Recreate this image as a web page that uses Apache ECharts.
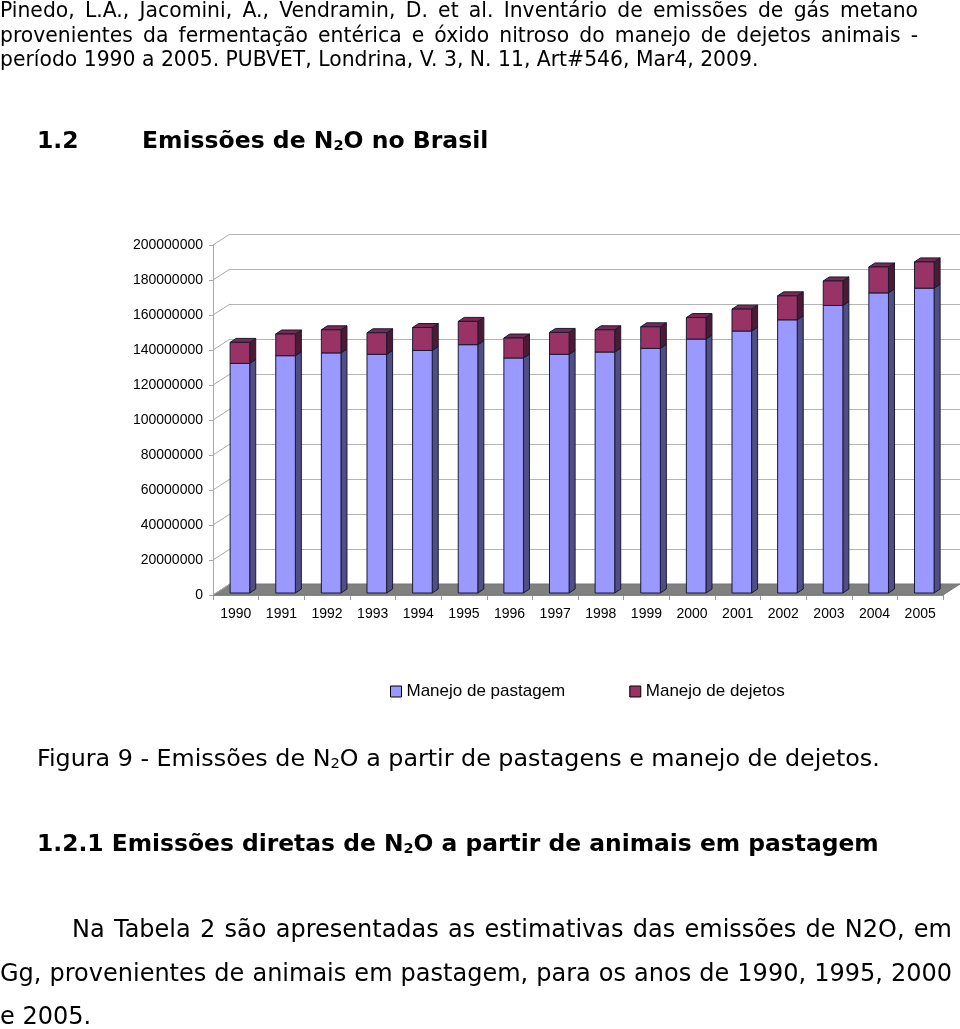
<!DOCTYPE html>
<html>
<head>
<meta charset="utf-8">
<script src="https://cdn.jsdelivr.net/npm/echarts@6/dist/echarts.min.js"></script>
<style>
  html, body { margin:0; padding:0; background:#fff; }
  #page { position:relative; width:960px; height:1029px; overflow:hidden; }
  #chart { position:absolute; left:0; top:0; width:960px; height:1029px; }
  .t { position:absolute; color:#000; font-family:"DejaVu Sans", Verdana, sans-serif; z-index:2; white-space:normal; }
  .j { text-align:justify; text-align-last:justify; }
  sub { font-size:0.62em; vertical-align:-0.15em; line-height:0; }
</style>
</head>
<body>
<div id="page">
  <div id="chart"></div>
  <div class="t" style="left:0; top:-2px; width:918px; font-size:20.35px; line-height:24.7px;">
    <div class="j">Pinedo, L.A., Jacomini, A., Vendramin, D. et al. Inventário de emissões de gás metano</div>
    <div class="j">provenientes da fermentação entérica e óxido nitroso do manejo de dejetos animais -</div>
    <div>período 1990 a 2005. PUBVET, Londrina, V. 3, N. 11, Art#546, Mar4, 2009.</div>
  </div>
  <div class="t" style="left:37px; top:125px; font-size:23.5px; font-weight:bold; line-height:30px;">1.2</div>
  <div class="t" style="left:142px; top:125px; font-size:23.5px; font-weight:bold; line-height:30px;">Emissões de N<sub>2</sub>O no Brasil</div>
  <div class="t" style="left:37px; top:743px; font-size:23.8px; line-height:30px;">Figura 9 - Emissões de N<sub>2</sub>O a partir de pastagens e manejo de dejetos.</div>
  <div class="t" style="left:37px; top:828px; font-size:23.4px; font-weight:bold; line-height:30px;">1.2.1&nbsp;Emissões diretas de N<sub>2</sub>O a partir de animais em pastagem</div>
  <div class="t" style="left:0; top:908px; width:952px; font-size:24px; line-height:43.5px;">
    <div class="j" style="padding-left:72px;">Na Tabela 2 são apresentadas as estimativas das emissões de N2O, em</div>
    <div class="j">Gg, provenientes de animais em pastagem, para os anos de 1990, 1995, 2000</div>
    <div>e 2005.</div>
  </div>
</div>
<script>
// ---- data ----
const years = ['1990','1991','1992','1993','1994','1995','1996','1997','1998','1999','2000','2001','2002','2003','2004','2005'];
const manejoPastagem = [131200000,135600000,137200000,136400000,138600000,141900000,134300000,136400000,137700000,139800000,145100000,149700000,156100000,164300000,171500000,174200000];
const manejoDejetos  = [12000000,12400000,13200000,12300000,13100000,13300000,11400000,12500000,12700000,12300000,12300000,12500000,13700000,14000000,14800000,15000000];
const yTicks = [0,20000000,40000000,60000000,80000000,100000000,120000000,140000000,160000000,180000000,200000000];
const seriesNames = ['Manejo de pastagem','Manejo de dejetos'];

// ---- styling ----
const DX = 17, DY = -11;           // wall/floor depth offset
const BDX = 6, BDY = -4;           // bar depth
const colors = {
  pastagem: { front:'#9999ff', side:'#4f4f86', top:'#7a7acc' },
  dejetos:  { front:'#993366', side:'#4d1a33', top:'#7a2952' }
};

function barRenderer(col){
  return function(params, api){
    const i = api.value(0);
    const p0 = api.coord([i, api.value(1)]);
    const p1 = api.coord([i, api.value(2)]);
    const bw = api.size([1,0])[0];
    const w = bw*0.43;
    const shift = bw*0.09;
    const xL = p0[0] + shift - w/2, xR = xL + w;
    const yB = p0[1] - 2, yT = p1[1] - 2;
    const st = { stroke:'#1a1a33', lineWidth:1, lineJoin:'round' };
    return { type:'group', children:[
      { type:'polygon', shape:{ points:[[xR,yT],[xR+BDX,yT+BDY],[xR+BDX,yB+BDY],[xR,yB]] }, style:Object.assign({fill:col.side}, st) },
      { type:'polygon', shape:{ points:[[xL,yT],[xL+BDX,yT+BDY],[xR+BDX,yT+BDY],[xR,yT]] }, style:Object.assign({fill:col.top}, st) },
      { type:'rect', shape:{ x:xL, y:yT, width:w, height:yB-yT }, style:Object.assign({fill:col.front}, st) }
    ]};
  };
}

const chart = echarts.init(document.getElementById('chart'), null, { renderer:'canvas' });
const labelFont = '"Liberation Sans", Arial, sans-serif';

chart.setOption({
  animation:false,
  backgroundColor:'#fff',
  grid:[
    { left:213, width:730, top:245, height:350 },
    { left:213+DX, right:-2, top:245+DY, height:350 }
  ],
  legend:{
    left:390, top:683, padding:0,
    itemWidth:11, itemHeight:11, itemGap:64,
    icon:'rect',
    itemStyle:{ borderColor:'#000', borderWidth:1 },
    textStyle:{ fontFamily:labelFont, fontSize:17, color:'#000' },
    data:seriesNames
  },
  xAxis:[
    { type:'category', gridIndex:0, data:years, boundaryGap:true,
      axisLine:{ show:true, lineStyle:{ color:'#999', width:1 } },
      axisTick:{ show:true, length:5, lineStyle:{ color:'#999' } },
      axisLabel:{ fontFamily:labelFont, fontSize:14, color:'#000', margin:12, interval:0 },
      splitLine:{ show:false } },
    { type:'category', gridIndex:1, data:years, show:false }
  ],
  yAxis:[
    { type:'value', gridIndex:0, min:0, max:200000000, interval:20000000,
      axisLine:{ show:true, lineStyle:{ color:'#aaa', width:1 } },
      axisTick:{ show:true, length:4, lineStyle:{ color:'#aaa' } },
      axisLabel:{ fontFamily:labelFont, fontSize:14, color:'#000', margin:10, formatter:v=>String(v) },
      splitLine:{ show:false } },
    { type:'value', gridIndex:1, min:0, max:200000000, interval:20000000,
      axisLine:{ show:false }, axisTick:{ show:false }, axisLabel:{ show:false },
      splitLine:{ show:true, lineStyle:{ color:'#b5b5b5', width:1 } } }
  ],
  series:[
    { type:'custom', name:'floor', xAxisIndex:0, yAxisIndex:0, z:1, silent:true,
      data:[[0]],
      renderItem:(params, api)=>{
        const c = params.coordSys;
        const yb = c.y + c.height;
        return { type:'polygon', shape:{ points:[[c.x,yb],[c.x+c.width,yb],[c.x+c.width+DX,yb+DY],[c.x+DX,yb+DY]] },
                 style:{ fill:'#808080', stroke:'#777', lineWidth:1 } };
      } },
    { type:'custom', name:'connectors', xAxisIndex:0, yAxisIndex:0, z:1, silent:true,
      data:yTicks.map(v=>[0,v]),
      renderItem:(params, api)=>{
        const c = params.coordSys;
        const y = api.coord([0, api.value(1)])[1];
        return { type:'line', shape:{ x1:c.x, y1:y, x2:c.x+DX, y2:y+DY }, style:{ stroke:'#aaa', lineWidth:1 } };
      } },
    { type:'custom', name:seriesNames[0], xAxisIndex:0, yAxisIndex:0, z:3,
      itemStyle:{ color:colors.pastagem.front },
      encode:{ x:0, y:[1,2] },
      data:manejoPastagem.map((v,i)=>[i,0,v]),
      renderItem:barRenderer(colors.pastagem) },
    { type:'custom', name:seriesNames[1], xAxisIndex:0, yAxisIndex:0, z:4,
      itemStyle:{ color:colors.dejetos.front },
      encode:{ x:0, y:[1,2] },
      data:manejoDejetos.map((v,i)=>[i,manejoPastagem[i],manejoPastagem[i]+v]),
      renderItem:barRenderer(colors.dejetos) }
  ]
});
</script>
</body>
</html>
